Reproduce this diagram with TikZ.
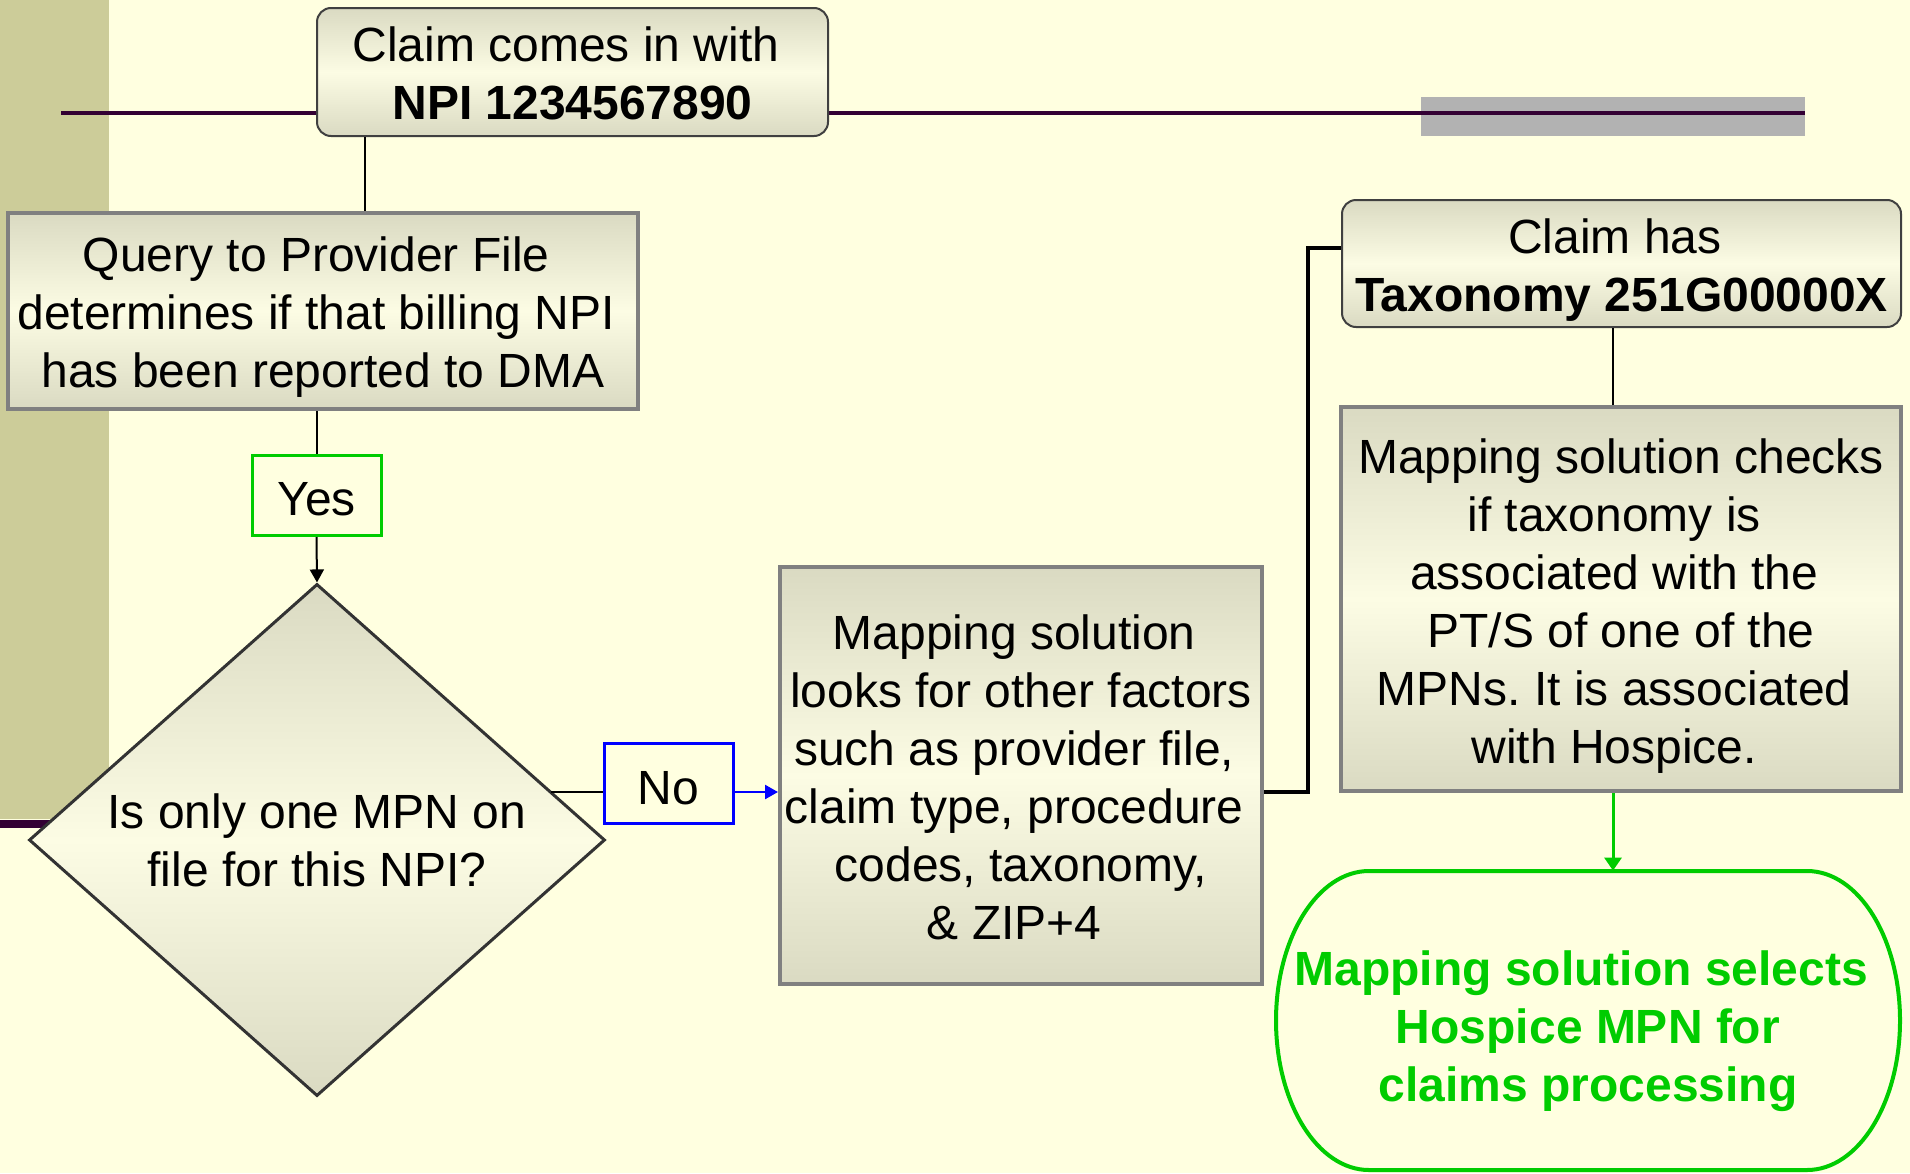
\documentclass[tikz,border=0pt]{standalone}
\usepackage{fontspec}
\setmainfont{Liberation Sans}
\frenchspacing
\usetikzlibrary{shapes.geometric,arrows.meta}

\definecolor{paper}{RGB}{255,255,224}
\definecolor{stripe}{RGB}{204,204,153}
\definecolor{plum}{RGB}{51,0,51}
\definecolor{bar}{RGB}{178,178,178}
\definecolor{shadeedge}{RGB}{218,218,194}
\definecolor{shademid}{RGB}{252,252,228}
\definecolor{frame}{RGB}{128,128,128}
\definecolor{darkframe}{RGB}{64,64,64}
\definecolor{diamondframe}{RGB}{51,51,51}
\definecolor{okgreen}{RGB}{0,204,0}

% trailing blank kept at the end of a line, and a strut to lower a text block
\newcommand{\trail}{\rule{0.28em}{0pt}}
\newcommand{\dropby}[1]{\rule{0pt}{#1}}

\tikzset{
  every node/.style={font=\fontsize{24pt}{29pt}\selectfont, align=center, inner sep=0pt},
  shaded/.style={top color=shadeedge, bottom color=shadeedge, middle color=shademid},
  stepbox/.style={shaded, draw=frame, line width=2pt},
  headbox/.style={shaded, draw=darkframe, line width=1pt, rounded corners=7pt},
  answer/.style={draw=#1, line width=1.5pt, minimum width=64.5pt, minimum height=40pt},
  decision/.style={diamond, shaded, draw=diamondframe, line width=1.5pt},
  conn/.style={line width=1pt},
  >={Triangle[length=6.5pt,width=7pt]}
}

\begin{document}
\begin{tikzpicture}[x=0.5pt, y=-0.5pt]
  \useasboundingbox (0,0) rectangle (1910,1173);
  \fill[paper] (0,0) rectangle (1910,1173);
  \fill[stripe] (0,0) rectangle (109,819);
  \draw[plum, line width=4pt] (0,824) -- (300,824);
  \fill[bar] (1421,97) rectangle (1805,136);
  \draw[plum, line width=2pt] (61,113) -- (1805,113);

  % left column
  \node[headbox, minimum width=255.5pt, minimum height=64pt] (claimIn) at (572.5,72)
    {\dropby{18.4pt}Claim comes in with\trail\\\textbf{NPI 1234567890}};
  \node[stepbox, minimum width=315pt, minimum height=98pt] (query) at (323,311)
    {\dropby{23.2pt}Query to Provider File\trail\\determines if that billing NPI\trail\\has been reported to DMA};
  \node[answer=okgreen] (yes) at (316.5,495.5) {\dropby{20.2pt}Yes};
  \node[decision, minimum width=288pt, minimum height=256pt] (onlyOne) at (317,840)
    {Is only one MPN on\\file for this NPI?};
  \node[answer=blue] (no) at (668.5,783.5) {\dropby{20.8pt}No};

  % middle and right
  \node[stepbox, minimum width=241pt, minimum height=208.5pt] (factors) at (1021,775.5)
    {\dropby{19.6pt}Mapping solution\trail\\looks for other factors\\such as provider file,\trail\\claim type, procedure\trail\\codes, taxonomy,\\\& ZIP+4\trail};
  \node[headbox, minimum width=279.5pt, minimum height=63.5pt] (taxo) at (1621.5,263.5)
    {\dropby{23.9pt}Claim has\trail\\\textbf{Taxonomy 251G00000X}};
  \node[stepbox, minimum width=280pt, minimum height=192pt] (check) at (1621,599)
    {\dropby{24.5pt}Mapping solution checks\\if taxonomy is\trail\\associated with the\trail\\PT/S of one of the\\MPNs. It is associated\trail\\with Hospice.\trail};
  \node[text=okgreen, font=\fontsize{24pt}{29pt}\selectfont\bfseries,
        minimum width=312pt, minimum height=149.5pt] (select) at (1588,1020.5)
    {\dropby{27.8pt}Mapping solution selects\trail\\Hospice MPN for\\claims processing};
  \draw[okgreen, line width=2pt]
    (1369,871) -- (1807,871)
    .. controls (1858.4,871) and (1900,937.9) .. (1900,1020.5)
    .. controls (1900,1103.1) and (1858.4,1170) .. (1807,1170)
    -- (1369,1170)
    .. controls (1317.6,1170) and (1276,1103.1) .. (1276,1020.5)
    .. controls (1276,937.9) and (1317.6,871) .. cycle;

  % connectors
  \coordinate (splitA) at (365,0);
  \coordinate (colR) at (1613,0);
  \coordinate (rowNo) at (0,792);
  \draw[conn] (claimIn.south -| splitA) -- (query.north -| splitA);
  \draw[conn] (query.south -| yes.north) -- (yes.north);
  \draw[conn, ->] (yes.south) -- (onlyOne.north);
  \draw[conn] (onlyOne.12 |- rowNo) -- (no.west |- rowNo);
  \draw[->, blue, line width=1.2pt] (no.east |- rowNo) -- (factors.west |- rowNo);
  \draw[line width=1.8pt] (factors.east |- rowNo) -- ++(44,0) |- ([yshift=7.75pt]taxo.west);
  \draw[conn] (taxo.south -| colR) -- (check.north -| colR);
  \draw[-{Triangle[length=6.5pt,width=8.5pt]}, okgreen, line width=1.5pt]
    (check.south -| colR) -- (select.north -| colR);
\end{tikzpicture}
\end{document}
